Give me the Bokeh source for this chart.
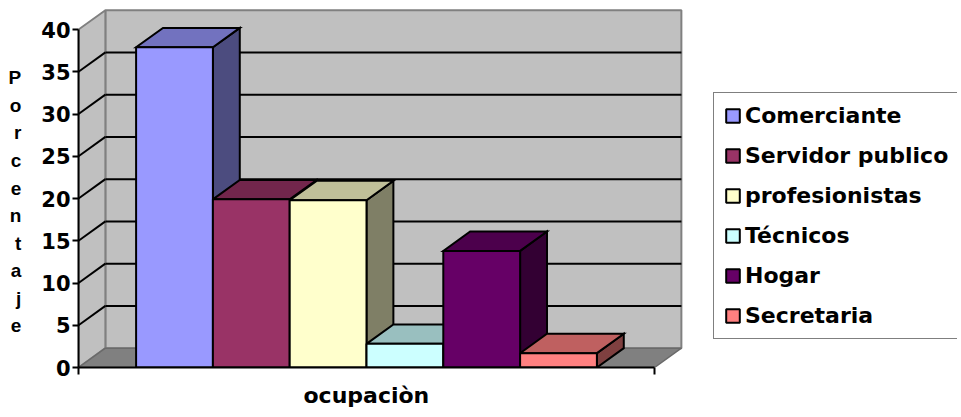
from bokeh.plotting import figure
from bokeh.models import Range1d, FixedTicker, Legend, LegendItem, ColumnDataSource, Title
from bokeh.embed import file_html
from bokeh.resources import INLINE

# ---- data ----
categories = ["Comerciante", "Servidor publico", "profesionistas", "Técnicos", "Hogar", "Secretaria"]
values = [37.9, 19.9, 19.8, 2.8, 13.8, 1.7]
y_ticks = [0, 5, 10, 15, 20, 25, 30, 35, 40]
y_title = "Porcentaje"
x_title = "ocupaciòn"
colors = ["#9999FF", "#993366", "#FFFFCC", "#CCFFFF", "#660066", "#FF8080"]

# ---- 3D geometry (style) ----
DX, DY = 0.35, 2.29          # depth offset in data units
X0, X1 = -0.75, len(categories) + 0.75
YMAX = 40
PX_PER_X = 76.8
W, H = 957, 414
LEFT, TOP, BOTTOM = 78, 8, 46
frame_w = W - LEFT
Y_END = YMAX + DY + 0.2


def shade(hexcol, f):
    h = hexcol.lstrip("#")
    r, g, b = (int(h[i:i + 2], 16) for i in (0, 2, 4))
    return "#%02x%02x%02x" % (int(r * f), int(g * f), int(b * f))


p = figure(width=W, height=H, output_backend="svg", toolbar_location=None,
           x_range=Range1d(X0, X0 + frame_w / PX_PER_X),
           y_range=Range1d(0, Y_END),
           min_border_left=LEFT, min_border_right=0, min_border_top=TOP,
           min_border_bottom=BOTTOM)
p.grid.visible = False
p.outline_line_color = None
p.background_fill_color = "white"
p.border_fill_color = "white"

WALL = "#C0C0C0"
EDGE = "#808080"

# back wall
p.quad(left=[X0 + DX], right=[X1 + DX], bottom=[DY], top=[YMAX + DY],
       fill_color=WALL, line_color=EDGE, line_width=2)
# side wall
p.patch([X0, X0 + DX, X0 + DX, X0], [0, DY, YMAX + DY, YMAX],
        fill_color=WALL, line_color=EDGE, line_width=2)
# floor
p.patch([X0, X1, X1 + DX, X0 + DX], [0, 0, DY, DY],
        fill_color="#808080", line_color="#6a6a6a", line_width=1.5)

# gridlines
grid_vals = [t for t in y_ticks if 0 < t < YMAX]
p.segment(x0=[X0 + DX] * len(grid_vals), y0=[g + DY for g in grid_vals],
          x1=[X1 + DX] * len(grid_vals), y1=[g + DY for g in grid_vals],
          line_color="black", line_width=2)
p.segment(x0=[X0] * len(grid_vals), y0=grid_vals,
          x1=[X0 + DX] * len(grid_vals), y1=[g + DY for g in grid_vals],
          line_color="black", line_width=2)

# bars
n = len(categories)
idx = list(range(n))
side_xs = [[i + 1, i + 1 + DX, i + 1 + DX, i + 1] for i in idx]
side_ys = [[0, DY, v + DY, v] for v in values]
top_xs = [[i, i + 1, i + 1 + DX, i + DX] for i in idx]
top_ys = [[v, v, v + DY, v + DY] for v in values]
p.patches(side_xs, side_ys, fill_color=[shade(c, 0.5) for c in colors],
          line_color="black", line_width=2, line_join="miter")
p.patches(top_xs, top_ys, fill_color=[shade(c, 0.75) for c in colors],
          line_color="black", line_width=2, line_join="miter")

src = ColumnDataSource(dict(left=idx, right=[i + 1 for i in idx], top=values,
                            bottom=[0] * n, color=colors, cat=categories))
fronts = p.quad(left="left", right="right", top="top", bottom="bottom",
                fill_color="color", line_color="black", line_width=2,
                source=src)

# axes
ya = p.yaxis[0]
ya.ticker = FixedTicker(ticks=y_ticks)
ya.bounds = (0, YMAX)
ya.axis_line_color = "black"
ya.axis_line_width = 2
ya.major_tick_out = 6
ya.major_tick_in = 0
ya.major_tick_line_width = 2
ya.minor_tick_out = 0
ya.minor_tick_in = 0
ya.major_label_standoff = 2
ya.major_label_text_font = "DejaVu Sans"
ya.major_label_text_font_style = "bold"
ya.major_label_text_font_size = "21px"
ya.major_label_text_color = "black"
ya.axis_label = "\n".join([" "] + list(y_title))
ya.axis_label_orientation = "horizontal"
ya.axis_label_text_font = "Liberation Sans"
ya.axis_label_text_font_style = "bold"
ya.axis_label_text_font_size = "19px"
ya.axis_label_text_line_height = 1.31
ya.axis_label_text_align = "center"
ya.axis_label_standoff = 17
ya.axis_label_text_color = "black"

xa = p.xaxis[0]
xa.ticker = FixedTicker(ticks=[X0, X1])
xa.bounds = (X0, X1)
xa.axis_line_color = "black"
xa.axis_line_width = 2
xa.major_tick_out = 7
xa.major_tick_in = 0
xa.major_tick_line_width = 2
xa.minor_tick_out = 0
xa.minor_tick_in = 0
xa.major_label_overrides = {X0: "", X1: ""}
xa.major_label_standoff = 0

# x title below the axis, aligned under the category axis
p.add_layout(Title(text=x_title, align="left", offset=225, standoff=13,
                   text_font="DejaVu Sans", text_font_style="bold",
                   text_font_size="22px", text_color="black"), "below")

# legend
items = [LegendItem(label=c, renderers=[fronts], index=i) for i, c in enumerate(categories)]
legend = Legend(items=items, location=(635, 28))
legend.label_text_font = "DejaVu Sans"
legend.label_text_font_style = "bold"
legend.label_text_font_size = "22px"
legend.label_text_color = "black"
legend.glyph_width = 17
legend.glyph_height = 17
legend.label_standoff = 4
legend.label_height = 25
legend.spacing = 15
legend.padding = 10
legend.margin = 0
legend.border_line_color = "black"
legend.border_line_width = 1.5
legend.background_fill_color = "white"
legend.background_fill_alpha = 1
p.add_layout(legend)

open("out.html", "w").write(file_html(p, INLINE))
